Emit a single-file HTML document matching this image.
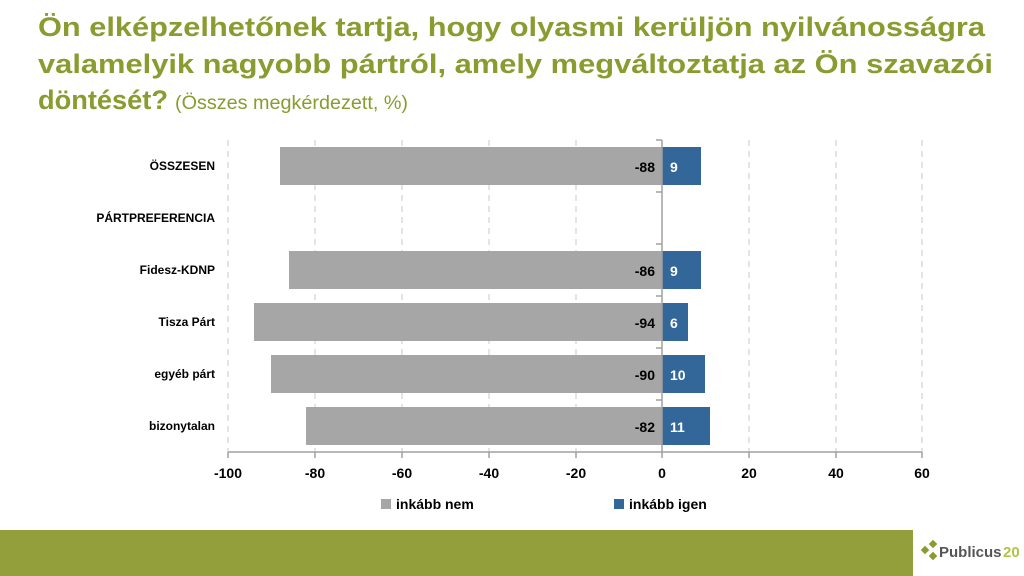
<!DOCTYPE html>
<html><head><meta charset="utf-8"><style>
html,body{margin:0;padding:0;background:#fff;width:1024px;height:576px;overflow:hidden}
svg{display:block;font-family:"Liberation Sans",sans-serif}
</style></head><body>
<svg width="1024" height="576" viewBox="0 0 1024 576" xmlns="http://www.w3.org/2000/svg">
<g fill="#8a9b2f" font-weight="bold" font-size="27">
<text x="38" y="36" textLength="947" lengthAdjust="spacingAndGlyphs">Ön elképzelhetőnek tartja, hogy olyasmi kerüljön nyilvánosságra</text>
<text x="38" y="73" textLength="955" lengthAdjust="spacingAndGlyphs">valamelyik nagyobb pártról, amely megváltoztatja az Ön szavazói</text>
<text x="38" y="109" textLength="130" lengthAdjust="spacingAndGlyphs">döntését?</text>
<text x="175" y="109" font-weight="normal" font-size="19" textLength="233" lengthAdjust="spacingAndGlyphs">(Összes megkérdezett, %)</text>
</g>
<g stroke="#c8c8c8" stroke-dasharray="6,5" stroke-width="1">
<line x1="315" y1="140" x2="315" y2="452"/><line x1="402" y1="140" x2="402" y2="452"/>
<line x1="489" y1="140" x2="489" y2="452"/><line x1="576" y1="140" x2="576" y2="452"/>
<line x1="749" y1="140" x2="749" y2="452"/><line x1="836" y1="140" x2="836" y2="452"/>
<line x1="922" y1="140" x2="922" y2="452"/><line x1="228" y1="140" x2="228" y2="452"/>
</g>
<g fill="#a6a6a6">
<rect x="280" y="147" width="382" height="38"/>
<rect x="289" y="251" width="373" height="38"/>
<rect x="254" y="303" width="408" height="38"/>
<rect x="271" y="355" width="391" height="38"/>
<rect x="306" y="407" width="356" height="38"/>
</g>
<g fill="#336699">
<rect x="662" y="147" width="39" height="38"/>
<rect x="662" y="251" width="39" height="38"/>
<rect x="662" y="303" width="26" height="38"/>
<rect x="662" y="355" width="43" height="38"/>
<rect x="662" y="407" width="48" height="38"/>
</g>
<g stroke="#a0a0a0" stroke-width="1.5">
<line x1="662" y1="140" x2="662" y2="452"/>
<line x1="228" y1="452" x2="922" y2="452"/>
<line x1="656" y1="140" x2="662" y2="140"/><line x1="656" y1="192" x2="662" y2="192"/>
<line x1="656" y1="244" x2="662" y2="244"/><line x1="656" y1="296" x2="662" y2="296"/>
<line x1="656" y1="348" x2="662" y2="348"/><line x1="656" y1="400" x2="662" y2="400"/>
<line x1="228" y1="452" x2="228" y2="458"/><line x1="315" y1="452" x2="315" y2="458"/>
<line x1="402" y1="452" x2="402" y2="458"/><line x1="489" y1="452" x2="489" y2="458"/>
<line x1="576" y1="452" x2="576" y2="458"/><line x1="662" y1="452" x2="662" y2="458"/>
<line x1="749" y1="452" x2="749" y2="458"/><line x1="836" y1="452" x2="836" y2="458"/>
<line x1="922" y1="452" x2="922" y2="458"/>
</g>
<g font-size="14" font-weight="bold" fill="#000" text-anchor="end">
<text x="655" y="172">-88</text><text x="655" y="276">-86</text><text x="655" y="328">-94</text>
<text x="655" y="380">-90</text><text x="655" y="432">-82</text>
</g>
<g font-size="14" font-weight="bold" fill="#fff">
<text x="670" y="172">9</text><text x="670" y="276">9</text><text x="670" y="328">6</text>
<text x="670" y="380">10</text><text x="670" y="432">11</text>
</g>
<g font-size="12" font-weight="bold" fill="#000" text-anchor="end">
<text x="215" y="170">ÖSSZESEN</text><text x="215" y="222">PÁRTPREFERENCIA</text>
<text x="215" y="274">Fidesz-KDNP</text><text x="215" y="326">Tisza Párt</text>
<text x="215" y="378">egyéb párt</text><text x="215" y="430">bizonytalan</text>
</g>
<g font-size="14" font-weight="bold" fill="#000" text-anchor="middle">
<text x="228" y="478">-100</text><text x="315" y="478">-80</text><text x="402" y="478">-60</text>
<text x="489" y="478">-40</text><text x="576" y="478">-20</text><text x="662" y="478">0</text>
<text x="749" y="478">20</text><text x="836" y="478">40</text><text x="922" y="478">60</text>
</g>
<rect x="381" y="499" width="10" height="10" fill="#a6a6a6"/>
<text x="396" y="509" font-size="14" font-weight="bold">inkább nem</text>
<rect x="614" y="499" width="10" height="10" fill="#336699"/>
<text x="629" y="509" font-size="14" font-weight="bold">inkább igen</text>
<rect x="0" y="530" width="913" height="46" fill="#939f3b"/>
<g fill="#8a9b2f">
<rect x="922" y="547" width="6" height="6" transform="rotate(45 925 550)"/>
<rect x="930" y="541" width="6" height="6" transform="rotate(45 933 544)"/>
<rect x="930" y="553" width="6" height="6" transform="rotate(45 933 556)"/>
</g>
<text x="939" y="557" font-size="15" font-weight="bold" fill="#555">Publicus</text>
<text x="1003" y="557" font-size="15" font-weight="bold" fill="#b5c24a">20</text>
</svg>
</body></html>
